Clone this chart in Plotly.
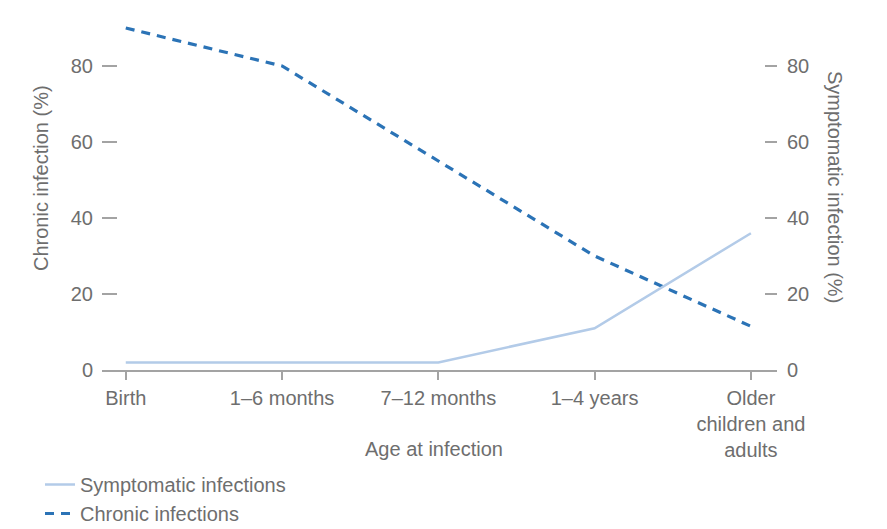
import plotly.graph_objects as go

categories = ["Birth", "1–6 months", "7–12 months", "1–4 years", "Older<br>children and<br>adults"]
symptomatic = [2, 2, 2, 11, 36]
chronic = [90, 80, 55, 30, 11.5]
y_ticks = [0, 20, 40, 60, 80]

# page body has an 8px margin, so the figure is sized/positioned to compensate
OFF = 8
W, H = 887 - OFF, 529 - OFF
PL, PR, PT, PB = 102, 777, 8, 370          # plot area in page pixels
L, R, T, B = PL - OFF, W - (PR - OFF), PT - OFF, H - (PB - OFF)
pw, ph = W - L - R, H - T - B

def px(x):
    return (x - PL) / pw

def py(y):
    return (PB - y) / ph

FONT = "Liberation Sans, Arial, sans-serif"
GRAY = "#6e6e6e"
AX = "#a3a3a3"
FS = 20

fig = go.Figure()
fig.add_trace(go.Scatter(
    x=categories, y=symptomatic, name="Symptomatic infections", yaxis="y2",
    mode="lines", line=dict(color="#b3cbe8", width=2.5), legendgroup="a"))
fig.add_trace(go.Scatter(
    x=categories, y=chronic, name="Chronic infections", yaxis="y",
    mode="lines", line=dict(color="#2b73b6", width=3.2, dash="9px,7px"), legendgroup="b"))

yr = [0, (PB - PT) / 3.8]
fig.update_layout(
    width=W, height=H,
    margin=dict(l=L, r=R, t=T, b=B, autoexpand=False),
    paper_bgcolor="white", plot_bgcolor="white",
    font=dict(family=FONT, size=FS, color=GRAY),
    showlegend=True,
    legend=dict(x=px(40), y=py(465), xanchor="left", yanchor="top",
                font=dict(size=FS, color=GRAY), tracegroupgap=0,
                bgcolor="rgba(0,0,0,0)"),
    xaxis=dict(type="category", range=[-0.152, 4.167], showgrid=False,
               showline=True, linecolor=AX, linewidth=2, automargin=False,
               ticks="outside", ticklen=8, tickcolor=AX, tickwidth=2,
               tickfont=dict(size=FS, color=GRAY), ticklabelstandoff=1,
               zeroline=False),
    yaxis=dict(range=yr, tickvals=y_ticks, showgrid=False, zeroline=False,
               showline=False, ticks="inside", ticklen=15, tickcolor=AX, tickwidth=2,
               automargin=False,
               tickfont=dict(size=FS, color=GRAY), ticklabelstandoff=8),
    yaxis2=dict(range=yr, tickvals=y_ticks, overlaying="y", side="right",
                showgrid=False, zeroline=False, showline=False, automargin=False,
                ticks="inside", ticklen=12, tickcolor=AX, tickwidth=2,
                tickfont=dict(size=FS, color=GRAY), ticklabelstandoff=9),
    annotations=[
        dict(text="Chronic infection (%)", x=px(41), y=py(178), xref="paper", yref="paper",
             showarrow=False, textangle=-90, xanchor="center", yanchor="middle",
             font=dict(size=FS, color=GRAY)),
        dict(text="Symptomatic infection (%)", x=px(835), y=py(187), xref="paper", yref="paper",
             showarrow=False, textangle=90, xanchor="center", yanchor="middle",
             font=dict(size=FS, color=GRAY)),
        dict(text="Age at infection", x=px(434), y=py(449), xref="paper", yref="paper",
             showarrow=False, xanchor="center", yanchor="middle",
             font=dict(size=FS, color=GRAY)),
    ],
)

fig.write_html("out.html")
